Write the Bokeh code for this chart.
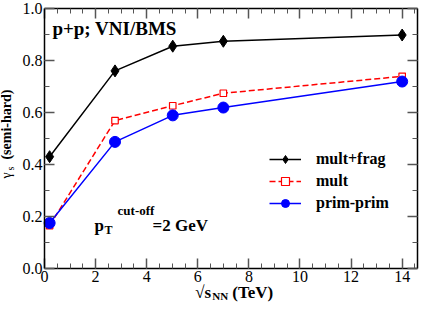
import math
from bokeh.plotting import figure
from bokeh.models import LinearAxis, Label, Range1d, FixedTicker
from bokeh.embed import file_html
from bokeh.resources import INLINE

# ---- data ----
energy = [0.2, 2.76, 5.02, 7.0, 14.0]
mult_frag = [0.43, 0.76, 0.855, 0.874, 0.898]
mult = [0.165, 0.569, 0.626, 0.674, 0.739]
prim_prim = [0.175, 0.487, 0.589, 0.619, 0.719]
series_names = ["mult+frag", "mult", "prim-prim"]
x_ticks = [0, 2, 4, 6, 8, 10, 12, 14]
y_ticks = [0.0, 0.2, 0.4, 0.6, 0.8, 1.0]
x_minor = [i * 0.5 for i in range(0, 30)]
y_minor = [i * 0.1 for i in range(0, 11)]
X_MIN, X_MAX = 0.0, 14.6
Y_MIN, Y_MAX = 0.0, 1.0

SERIF = "Liberation Serif"
QSERIF = "'Liberation Serif'"

W, H = 420, 304
BOX_L, BOX_R, BOX_T, BOX_B = 44, 417, 8, 268   # plot box in canvas pixels
sx = (BOX_R - BOX_L) / (X_MAX - X_MIN)
sy = (BOX_B - BOX_T) / (Y_MAX - Y_MIN)
xr = Range1d(X_MIN - BOX_L / sx, X_MAX + (W - BOX_R) / sx)
yr = Range1d(Y_MIN - (H - BOX_B) / sy, Y_MAX + BOX_T / sy)

p = figure(width=W, height=H, x_range=xr, y_range=yr,
           output_backend="svg", toolbar_location=None, min_border=0)
p.grid.visible = False
p.outline_line_color = None
p.xaxis.visible = False
p.yaxis.visible = False

def make_axis(ticks, minor, loc, bounds, labels):
    ax = LinearAxis(ticker=FixedTicker(ticks=ticks, minor_ticks=minor),
                    fixed_location=loc, bounds=bounds)
    ax.axis_line_color = "black"
    ax.axis_line_width = 1.5
    ax.major_tick_in = 10
    ax.major_tick_out = 0
    ax.minor_tick_in = 5
    ax.minor_tick_out = 0
    ax.major_tick_line_color = "#555555"
    ax.minor_tick_line_color = "#555555"
    ax.major_tick_line_width = 1.5
    ax.minor_tick_line_width = 1
    if labels:
        ax.major_label_text_font = QSERIF
        ax.major_label_text_font_size = "16px"
        ax.major_label_text_color = "black"
        ax.major_label_standoff = 2
    else:
        ax.major_label_text_font_size = "0px"
        ax.major_label_standoff = 0
    return ax

bottom = make_axis(x_ticks, x_minor, Y_MIN, (X_MIN, X_MAX), True)
top = make_axis(x_ticks, x_minor, Y_MAX, (X_MIN, X_MAX), False)
left = make_axis(y_ticks, y_minor, X_MIN, (Y_MIN, Y_MAX), True)
right = make_axis(y_ticks, y_minor, X_MAX, (Y_MIN, Y_MAX), False)
bottom.major_label_overrides = {0: "0"}
left.major_label_overrides = {0: "0.0", 1: "1.0"}
p.add_layout(bottom, "below")
p.add_layout(top, "above")
p.add_layout(left, "left")
p.add_layout(right, "right")

# ---- series ----
p.line(energy, mult_frag, line_color="black", line_width=1.5, legend_label=series_names[0])
p.scatter(energy, mult_frag, marker="diamond", size=12,
          fill_color="black", line_color="black", legend_label=series_names[0])
p.line(energy, mult, line_color="red", line_width=1.5, line_dash="6 3", legend_label=series_names[1])
p.scatter(energy, mult, marker="square", size=6.5, fill_color="white", line_color="red",
          line_width=1.2, legend_label=series_names[1])
p.line(energy, prim_prim, line_color="blue", line_width=1.5, legend_label=series_names[2])
p.scatter(energy, prim_prim, marker="circle", size=11, fill_color="blue", line_color="blue",
          legend_label=series_names[2])

lg = p.legend[0]
lg.location = (269, 91)
lg.border_line_color = None
lg.background_fill_alpha = 0
lg.padding = 0
lg.margin = 0
lg.spacing = 2
lg.glyph_width = 32
lg.glyph_height = 20
lg.label_standoff = 15
lg.label_text_font = SERIF
lg.label_text_font_style = "bold"
lg.label_text_font_size = "16px"
lg.label_text_color = "black"

# ---- annotations ----
def lab(x, y, text, size, bold=True, xo=0, yo=0, angle=0, align="left",
        baseline="alphabetic"):
    p.add_layout(Label(x=x, y=y, text=text, x_offset=xo, y_offset=yo, angle=angle,
                       text_font=SERIF, text_font_size=f"{size}px",
                       text_font_style="bold" if bold else "normal",
                       text_color="black", text_align=align, text_baseline=baseline))

lab(0.309, 0.9065, "p+p; VNI/BMS", 19, baseline="middle", yo=4)

# pT cut-off label
lab(1.96, 0.147, "p", 17, yo=5)
lab(1.96, 0.147, "T", 12, xo=10, yo=0)
lab(1.96, 0.147, "cut-off", 13, xo=23, yo=20)
lab(1.96, 0.147, "=2 GeV", 17, xo=58, yo=5)

# x axis title
lab(5.9, -0.1115, "\u221as", 17, yo=5)
lab(5.9, -0.1115, "NN", 11, xo=17, yo=1)
lab(5.9, -0.1115, "(TeV)", 17, xo=37, yo=5)

# y axis title (rotated)
ang = math.pi / 2
lab(-1.29, 0.346, "\u03b3", 14, bold=False, angle=ang, xo=-5)
lab(-1.29, 0.346, "s", 10, bold=False, angle=ang, xo=-1, yo=8)
lab(-1.29, 0.346, "(semi-hard)", 14, angle=ang, xo=-5, yo=19)

open("out.html", "w").write(file_html(p, INLINE))
